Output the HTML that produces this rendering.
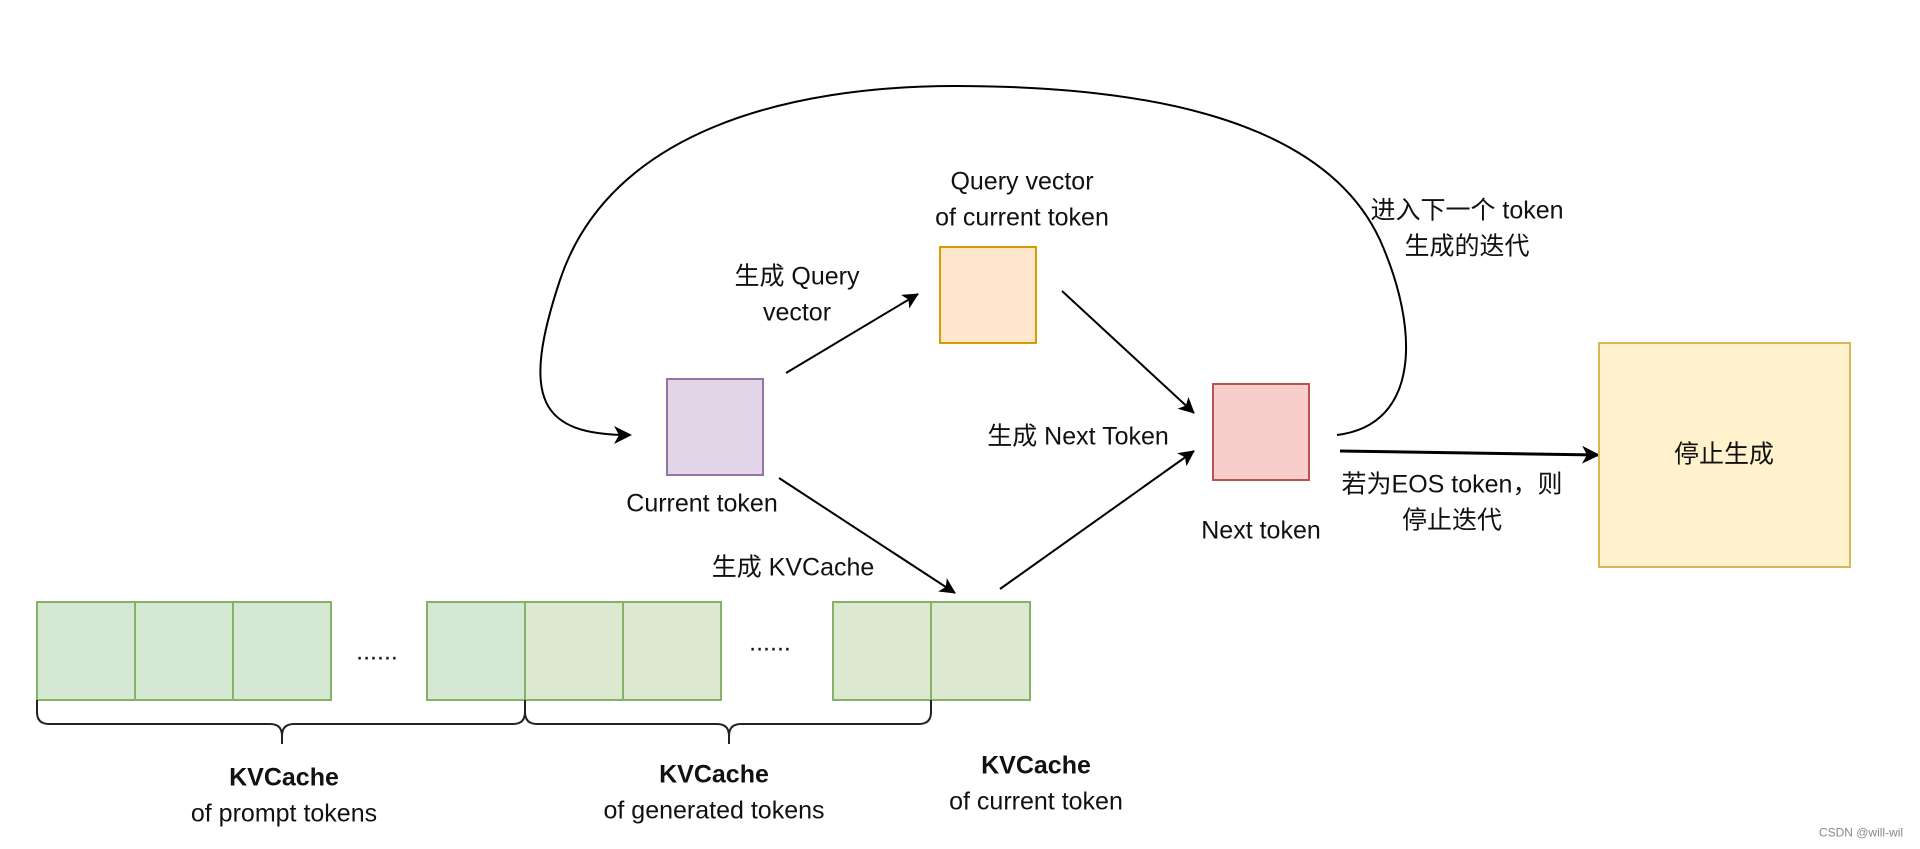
<!DOCTYPE html>
<html><head><meta charset="utf-8"><style>
body{margin:0;background:#fff;width:1920px;height:849px;overflow:hidden;position:relative;font-family:"Liberation Sans","Noto Sans CJK SC",sans-serif;}
.t{position:absolute;transform:translate(-50%,-50%);white-space:nowrap;font-size:25px;color:#111;text-align:center;line-height:1.42;}
.b{position:absolute;box-sizing:border-box;}
</style></head><body>
<svg width="1920" height="849" style="position:absolute;left:0;top:0">
<defs><marker id="a" markerWidth="16" markerHeight="16" refX="15" refY="8" orient="auto" markerUnits="userSpaceOnUse" viewBox="0 0 16 16"><path d="M0,0 L16,8 L0,16 L4,8z" fill="#000"/></marker>
<marker id="a2" markerWidth="18" markerHeight="18" refX="16" refY="9" orient="auto" markerUnits="userSpaceOnUse" viewBox="0 0 18 18"><path d="M0,0 L18,9 L0,18 L5,9z" fill="#000"/></marker></defs>
<g stroke="#82b366" stroke-width="2">
<rect x="37" y="602" width="98" height="98" fill="#d5e8d4"/><rect x="135" y="602" width="98" height="98" fill="#d5e8d4"/><rect x="233" y="602" width="98" height="98" fill="#d5e8d4"/>
<rect x="427" y="602" width="98" height="98" fill="#d5e8d4"/><rect x="525" y="602" width="98" height="98" fill="#dde8d0"/><rect x="623" y="602" width="98" height="98" fill="#dde8d0"/>
<rect x="833" y="602" width="98" height="98" fill="#dde8d0"/><rect x="931" y="602" width="99" height="98" fill="#dde8d0"/>
</g>
<g fill="none" stroke="#222" stroke-width="2">
<path d="M37,700 v12 q0,12 12,12 h221 q12,0 12,12 v8 M282,736 q0,-12 12,-12 h219 q12,0 12,-12 v-12"/>
<path d="M525,700 v12 q0,12 12,12 h180 q12,0 12,12 v8 M729,736 q0,-12 12,-12 h178 q12,0 12,-12 v-12"/>
</g>
<g stroke="#000" stroke-width="2" fill="none">
<line x1="786" y1="373" x2="918" y2="294" marker-end="url(#a)"/>
<line x1="1062" y1="291" x2="1194" y2="413" marker-end="url(#a)"/>
<line x1="779" y1="478" x2="955" y2="593" marker-end="url(#a)"/>
<line x1="1000" y1="589" x2="1194" y2="451" marker-end="url(#a)"/>
<line x1="1340" y1="451" x2="1598" y2="455" stroke-width="3" marker-end="url(#a2)"/>
<path d="M1337,435 C1420,425 1420,330 1380,240 C1320,110 1120,86 955,86 C790,86 610,130 560,280 C520,400 540,435 630,435" marker-end="url(#a2)"/>
</g>
</svg>
<div class="b" style="left:666px;top:378px;width:98px;height:98px;background:#e1d5e7;border:2px solid #9673a6"></div>
<div class="b" style="left:939px;top:246px;width:98px;height:98px;background:#ffe6cc;border:2px solid #d79b00"></div>
<div class="b" style="left:1212px;top:383px;width:98px;height:98px;background:#f8cecc;border:2px solid #b85450"></div>
<div class="b" style="left:1598px;top:342px;width:253px;height:226px;background:#fff2cc;border:2px solid #d6b656"></div>
<div class="t" style="left:1724px;top:455px">停止生成</div>
<div class="t" style="left:377px;top:652px">......</div>
<div class="t" style="left:770px;top:643px">......</div>
<div class="t" style="left:284px;top:796px"><b>KVCache</b><br>of prompt tokens</div>
<div class="t" style="left:714px;top:793px"><b>KVCache</b><br>of generated tokens</div>
<div class="t" style="left:1036px;top:784px"><b>KVCache</b><br>of current token</div>
<div class="t" style="left:702px;top:504px">Current token</div>
<div class="t" style="left:1022px;top:200px">Query vector<br>of current token</div>
<div class="t" style="left:1261px;top:531px">Next token</div>
<div class="t" style="left:797px;top:295px">生成 Query<br>vector</div>
<div class="t" style="left:1078px;top:437px">生成 Next Token</div>
<div class="t" style="left:793px;top:568px">生成 KVCache</div>
<div class="t" style="left:1452px;top:503px">若为EOS token，则<br>停止迭代</div>
<div class="t" style="left:1467px;top:229px">进入下一个 token<br>生成的迭代</div>
<div class="t" style="left:1861px;top:833px;font-size:12px;color:#888">CSDN @will-wil</div>
</body></html>
